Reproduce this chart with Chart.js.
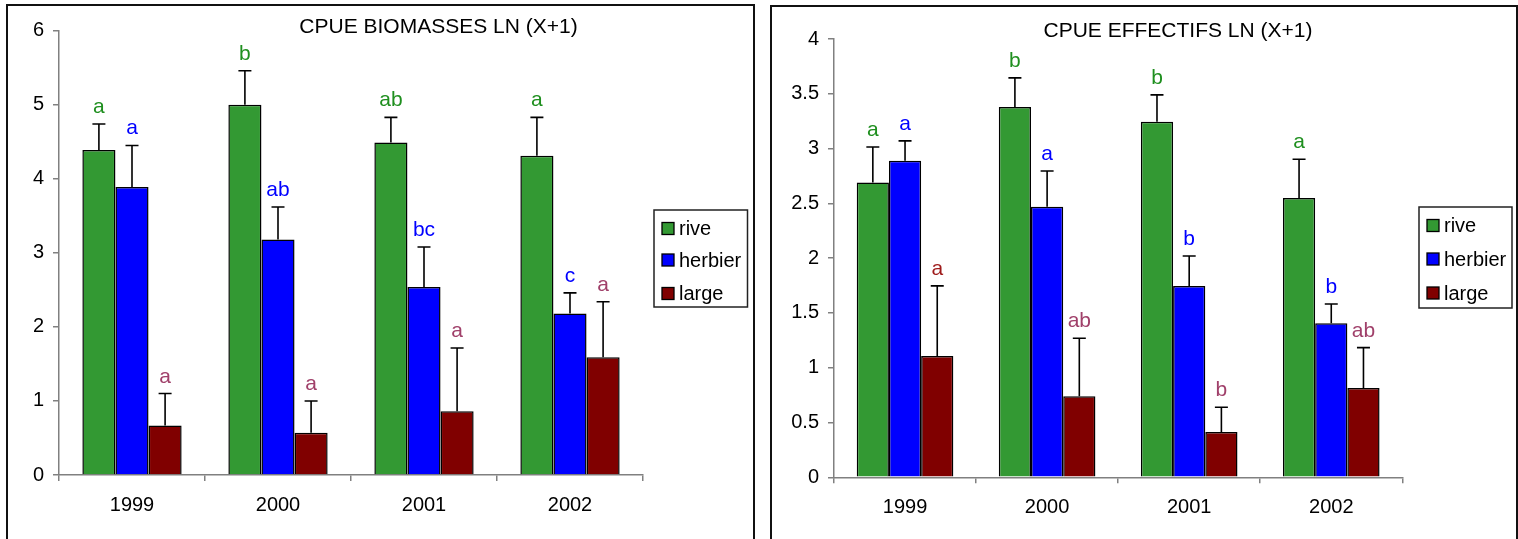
<!DOCTYPE html>
<html><head><meta charset="utf-8">
<script src="https://cdn.jsdelivr.net/npm/chart.js@4.4.0/dist/chart.umd.min.js"></script>
<style>
html,body{margin:0;padding:0;background:#fff;width:1518px;height:539px;overflow:hidden;position:relative}
canvas{position:absolute;top:0;left:0}
.frame{position:absolute;border:2px solid #111;pointer-events:none;box-sizing:border-box}
</style></head><body>
<div style="position:absolute;left:0;top:0;width:762px;height:539px"><canvas id="c1" width="762" height="539"></canvas></div>
<div style="position:absolute;left:762px;top:0;width:756px;height:539px"><canvas id="c2" width="756" height="539"></canvas></div>
<div class="frame" style="left:6px;top:4px;width:749px;height:560px"></div>
<div class="frame" style="left:770px;top:5px;width:748px;height:560px"></div>
<script>
// ---------- DATA ----------
const categories = ['1999', '2000', '2001', '2002'];
const seriesNames = ['rive', 'herbier', 'large'];

const bioTitle = 'CPUE BIOMASSES LN (X+1)';
const bioTicks = [0, 1, 2, 3, 4, 5, 6];
const bioRive = [4.39, 5.00, 4.49, 4.31];
const bioRiveErr = [0.35, 0.46, 0.34, 0.52];
const bioHerbier = [3.89, 3.18, 2.54, 2.18];
const bioHerbierErr = [0.56, 0.44, 0.54, 0.28];
const bioLarge = [0.67, 0.57, 0.86, 1.59];
const bioLargeErr = [0.43, 0.43, 0.855, 0.75];
const bioRiveLetters = ['a', 'b', 'ab', 'a'];
const bioHerbierLetters = ['a', 'ab', 'bc', 'c'];
const bioLargeLetters = ['a', 'a', 'a', 'a'];

const effTitle = 'CPUE EFFECTIFS LN (X+1)';
const effTicks = [0, 0.5, 1, 1.5, 2, 2.5, 3, 3.5, 4];
const effRive = [2.69, 3.38, 3.245, 2.55];
const effRiveErr = [0.325, 0.265, 0.245, 0.353];
const effHerbier = [2.89, 2.47, 1.745, 1.405];
const effHerbierErr = [0.18, 0.325, 0.275, 0.176];
const effLarge = [1.107, 0.739, 0.413, 0.815];
const effLargeErr = [0.64, 0.53, 0.226, 0.368];
const effRiveLetters = ['a', 'b', 'b', 'a'];
const effHerbierLetters = ['a', 'a', 'b', 'b'];
const effLargeLetters = ['a', 'ab', 'b', 'ab'];

// ---------- STYLES ----------
const FONT = '"Liberation Sans", Arial, Helvetica, sans-serif';
const barColors = ['#339933', '#0000ff', '#800000'];
const letterColors = ['#1f8f1f', '#0000ff', '#a0406a'];
const effLetterColorsLarge = ['#9e1a1a', '#a0406a', '#a0406a', '#a0406a'];

const errPlugin = {
  id: 'errLetters',
  afterDatasetsDraw(chart) {
    const ctx = chart.ctx, ys = chart.scales.y;
    chart.data.datasets.forEach((ds, di) => {
      const meta = chart.getDatasetMeta(di);
      meta.data.forEach((bar, i) => {
        const v = ds.data[i], e = ds.err[i];
        const y0 = ys.getPixelForValue(v), y1 = ys.getPixelForValue(v + e);
        const x = bar.x;
        ctx.save();
        ctx.strokeStyle = '#000'; ctx.lineWidth = 1.6;
        ctx.beginPath();
        ctx.moveTo(x, y0); ctx.lineTo(x, y1);
        ctx.moveTo(x - 6.5, y1); ctx.lineTo(x + 6.5, y1);
        ctx.stroke();
        ctx.fillStyle = ds.letterColors[i];
        ctx.font = '21px ' + FONT;
        ctx.textAlign = 'center'; ctx.textBaseline = 'alphabetic';
        ctx.fillText(ds.letters[i], x, y1 - 11);
        ctx.restore();
      });
    });
  }
};

const decoPlugin = {
  id: 'deco',
  afterDraw(chart, args, o) {
    const ctx = chart.ctx;
    ctx.save();
    ctx.fillStyle = '#000';
    ctx.font = '21px ' + FONT;
    ctx.textAlign = 'center'; ctx.textBaseline = 'middle';
    ctx.fillText(o.title, o.titleX, o.titleY);
    // legend
    ctx.lineWidth = 1.5; ctx.strokeStyle = '#222';
    ctx.strokeRect(o.lx, o.ly, o.lw, o.lh);
    ctx.font = '20px ' + FONT;
    ctx.textAlign = 'left';
    chart.data.datasets.forEach((ds, i) => {
      const cy = o.ly + o.items[i];
      ctx.fillStyle = ds.backgroundColor;
      ctx.fillRect(o.lx + 8, cy - 6, 12, 12);
      ctx.lineWidth = 1.3; ctx.strokeStyle = '#000';
      ctx.strokeRect(o.lx + 8, cy - 6, 12, 12);
      ctx.fillStyle = '#000';
      ctx.fillText(ds.label, o.lx + 25, cy + 1);
    });
    ctx.restore();
  }
};

function makeChart(id, vals, errs, letters, lcolors, ticks, geo, deco) {
  const datasets = seriesNames.map((n, i) => ({
    label: n,
    data: vals[i],
    err: errs[i],
    letters: letters[i],
    letterColors: lcolors[i],
    backgroundColor: barColors[i],
    borderColor: '#000',
    borderWidth: 1.5,
    categoryPercentage: 0.68,
    barPercentage: 1.0
  }));
  return new Chart(document.getElementById(id), {
    type: 'bar',
    data: { labels: categories, datasets },
    plugins: [errPlugin, decoPlugin],
    options: {
      responsive: false,
      animation: false,
      layout: { padding: { left: 0, top: geo.top, right: geo.right, bottom: 0 } },
      plugins: { legend: { display: false }, title: { display: false }, tooltip: { enabled: false }, deco },
      scales: {
        x: {
          grid: { offset: true, drawOnChartArea: false, drawTicks: true, tickLength: 6, color: '#808080', lineWidth: 1.5 },
          border: { display: true, color: '#808080', width: 1.5 },
          ticks: { color: '#000', font: { size: 20, family: FONT }, padding: 12 },
          afterFit(s) { s.height = geo.xh; }
        },
        y: {
          min: ticks[0], max: ticks[ticks.length - 1],
          afterBuildTicks(s) { s.ticks = ticks.map(v => ({ value: v })); },
          grid: { drawOnChartArea: false, drawTicks: true, tickLength: 6, color: '#808080', lineWidth: 1.5 },
          border: { display: true, color: '#808080', width: 1.5 },
          ticks: { color: '#000', font: { size: 20, family: FONT }, padding: 9, callback: v => String(v) },
          afterFit(s) { s.width = geo.yw; }
        }
      }
    }
  });
}

makeChart('c1',
  [bioRive, bioHerbier, bioLarge],
  [bioRiveErr, bioHerbierErr, bioLargeErr],
  [bioRiveLetters, bioHerbierLetters, bioLargeLetters],
  [Array(4).fill(letterColors[0]), Array(4).fill(letterColors[1]), Array(4).fill(letterColors[2])],
  bioTicks,
  { top: 30.7, right: 119, xh: 64, yw: 59 },
  { title: bioTitle, titleX: 438.5, titleY: 27, lx: 654, ly: 210, lw: 93.5, lh: 97, items: [18.5, 50, 83.5] }
);

makeChart('c2',
  [effRive, effHerbier, effLarge],
  [effRiveErr, effHerbierErr, effLargeErr],
  [effRiveLetters, effHerbierLetters, effLargeLetters],
  [Array(4).fill(letterColors[0]), Array(4).fill(letterColors[1]), effLetterColorsLarge],
  effTicks,
  { top: 39, right: 115.7, xh: 61.7, yw: 72 },
  { title: effTitle, titleX: 416, titleY: 31, lx: 657, ly: 207, lw: 93, lh: 101, items: [18.5, 52, 86] }
);
</script>
</body></html>
